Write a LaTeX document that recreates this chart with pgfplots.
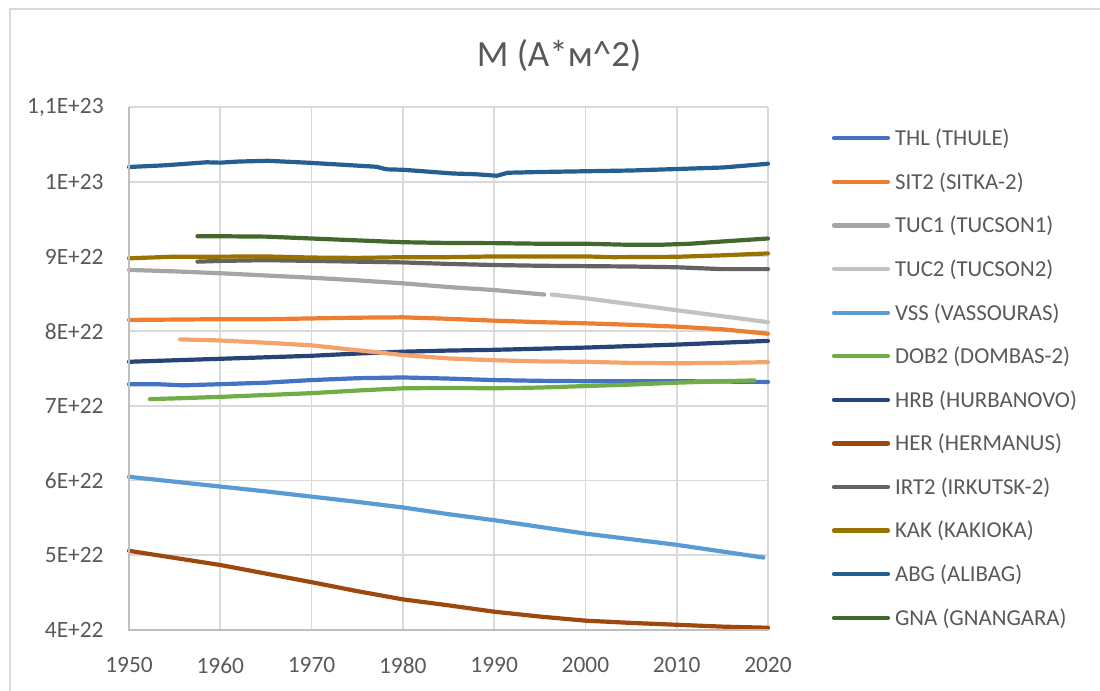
\documentclass[border=0pt]{standalone}
\usepackage{fontspec}
\setmainfont{Carlito}
\usepackage{pgfplots}
\pgfplotsset{compat=1.18}
\definecolor{txtgray}{HTML}{595959}
\definecolor{gridgray}{HTML}{D9D9D9}
\definecolor{axgray}{HTML}{BFBFBF}
\definecolor{cTHL}{HTML}{4472C4}
\definecolor{cSIT}{HTML}{ED7D31}
\definecolor{cTUCa}{HTML}{A5A5A5}
\definecolor{cTUCb}{HTML}{C2C2C2}
\definecolor{cVSS}{HTML}{5B9BD5}
\definecolor{cDOB}{HTML}{70AD47}
\definecolor{cHRB}{HTML}{264478}
\definecolor{cHER}{HTML}{9E480E}
\definecolor{cIRT}{HTML}{636363}
\definecolor{cKAK}{HTML}{997300}
\definecolor{cABG}{HTML}{255E91}
\definecolor{cGNA}{HTML}{43682B}
\definecolor{cEXT}{HTML}{F4A36C}
\begin{document}
\begin{tikzpicture}
\useasboundingbox (0,0) rectangle (550pt,345.5pt);
\draw[gridgray, line width=0.75pt] (5pt,0) -- (5pt,341pt) -- (550pt,341pt);
\node[text=txtgray, font=\fontsize{18.5}{22}\selectfont] at (279.5pt,317.5pt) {M (A*м\textasciicircum 2)};
\begin{axis}[
  at={(64.5pt,30.5pt)}, anchor=south west,
  scale only axis, width=319.5pt, height=261.5pt,
  xmin=1950, xmax=2020, ymin=4, ymax=11,
  xtick={1950,1960,1970,1980,1990,2000,2010,2020},
  xticklabels={1950,1960,1970,1980,1990,2000,2010,2020},
  ytick={4,5,6,7,8,9,10,11},
  yticklabels={4E+22,5E+22,6E+22,7E+22,8E+22,9E+22,1E+23,{1,1E+23}},
  tick style={draw=none},
  axis line style={draw=none},
  grid=major,
  major grid style={gridgray, line width=0.9pt},
  every tick label/.append style={inner sep=0pt, text=txtgray, font=\fontsize{11.7}{14}\selectfont},
  xticklabel style={yshift=-13.5pt},
  yticklabel style={xshift=-12.5pt},
  legend style={draw=none, fill=none, inner sep=0pt, outer sep=0pt,
    at={(1.1,0.9545)}, anchor=north west,
    font=\fontsize{11.4}{14}\selectfont, text=txtgray,
    row sep=14.4pt, column sep=2.5pt,
    nodes={inner sep=0pt, text height=7.4pt, text depth=0pt}},
  legend cell align=left,
  legend image code/.code={\draw[#1, line width=2.1pt] (0pt,0pt) -- (27pt,0pt);},
  every axis plot/.append style={line width=2.1pt, line join=round, line cap=round, no markers},
  clip=false,
]
\addplot[cTHL] coordinates {(1950,7.29) (1953,7.29) (1956,7.275) (1960,7.29) (1965,7.31) (1970,7.345) (1975,7.37) (1980,7.38) (1985,7.365) (1990,7.345) (1995,7.335) (2000,7.33) (2005,7.33) (2010,7.33) (2015,7.325) (2020,7.32)};
\addlegendentry{THL (THULE)}
\addplot[cSIT] coordinates {(1950,8.15) (1955,8.155) (1960,8.16) (1965,8.16) (1970,8.17) (1975,8.18) (1980,8.185) (1985,8.165) (1990,8.14) (1995,8.12) (2000,8.105) (2005,8.085) (2010,8.06) (2015,8.025) (2020,7.965)};
\addlegendentry{SIT2 (SITKA-2)}
\addplot[cTUCa] coordinates {(1950,8.82) (1955,8.80) (1960,8.775) (1965,8.745) (1970,8.715) (1975,8.68) (1980,8.64) (1985,8.59) (1990,8.55) (1995.5,8.49)};
\addlegendentry{TUC1 (TUCSON1)}
\addplot[cTUCb] coordinates {(1996.3,8.49) (2000,8.44) (2005,8.36) (2010,8.28) (2015,8.20) (2020,8.12)};
\addlegendentry{TUC2 (TUCSON2)}
\addplot[cVSS] coordinates {(1950,6.05) (1955,5.985) (1960,5.92) (1965,5.855) (1970,5.785) (1975,5.715) (1980,5.64) (1985,5.55) (1990,5.47) (1995,5.38) (2000,5.29) (2005,5.215) (2010,5.14) (2015,5.05) (2019.5,4.97)};
\addlegendentry{VSS (VASSOURAS)}
\addplot[cDOB] coordinates {(1952.3,7.09) (1955,7.10) (1960,7.12) (1965,7.145) (1970,7.17) (1975,7.205) (1980,7.235) (1985,7.24) (1990,7.235) (1995,7.245) (2000,7.265) (2005,7.285) (2010,7.31) (2015,7.33) (2018.5,7.34)};
\addlegendentry{DOB2 (DOMBAS-2)}
\addplot[cHRB] coordinates {(1950,7.59) (1955,7.61) (1960,7.63) (1965,7.65) (1970,7.67) (1975,7.70) (1980,7.725) (1985,7.74) (1990,7.75) (1995,7.765) (2000,7.78) (2005,7.80) (2010,7.82) (2015,7.845) (2020,7.87)};
\addlegendentry{HRB (HURBANOVO)}
\addplot[cHER] coordinates {(1950,5.06) (1955,4.965) (1960,4.87) (1965,4.755) (1970,4.64) (1975,4.52) (1980,4.41) (1985,4.33) (1990,4.245) (1995,4.18) (2000,4.125) (2005,4.095) (2010,4.07) (2015,4.045) (2020,4.03)};
\addlegendentry{HER (HERMANUS)}
\addplot[cIRT] coordinates {(1957.5,8.93) (1960,8.94) (1965,8.95) (1970,8.94) (1975,8.93) (1980,8.92) (1985,8.90) (1990,8.885) (1995,8.875) (2000,8.87) (2005,8.865) (2010,8.855) (2015,8.83) (2020,8.83)};
\addlegendentry{IRT2 (IRKUTSK-2)}
\addplot[cKAK] coordinates {(1950,8.975) (1955,8.997) (1960,8.997) (1965,9.0) (1970,8.985) (1975,8.98) (1980,8.99) (1985,8.99) (1990,9.0) (1995,9.0) (2000,9.0) (2003,8.99) (2010,8.995) (2015,9.015) (2020,9.04)};
\addlegendentry{KAK (KAKIOKA)}
\addplot[cABG] coordinates {(1950,10.197) (1954,10.22) (1958.5,10.26) (1960,10.255) (1962,10.27) (1965.2,10.28) (1969.5,10.255) (1973,10.23) (1977.1,10.20) (1978.2,10.166) (1980,10.16) (1985.5,10.11) (1988,10.10) (1990.3,10.08) (1991.5,10.12) (1995,10.13) (2000,10.14) (2005,10.15) (2010,10.17) (2015,10.19) (2020,10.24)};
\addlegendentry{ABG (ALIBAG)}
\addplot[cGNA] coordinates {(1957.5,9.27) (1960,9.27) (1965,9.265) (1970,9.24) (1975,9.215) (1980,9.19) (1985,9.18) (1990,9.178) (1995,9.17) (2000,9.17) (2005,9.155) (2008,9.155) (2011.5,9.17) (2015,9.2) (2020,9.24)};
\addlegendentry{GNA (GNANGARA)}
\addplot[cEXT, forget plot] coordinates {(1955.6,7.89) (1960,7.875) (1965,7.845) (1970,7.81) (1975,7.745) (1980,7.68) (1985,7.635) (1990,7.61) (1995,7.595) (2000,7.59) (2005,7.575) (2010,7.57) (2015,7.575) (2020,7.585)};
\draw[axgray, line width=1pt] (rel axis cs:0,1) -- (rel axis cs:0,0) -- (rel axis cs:1,0);
\end{axis}
\end{tikzpicture}
\end{document}
